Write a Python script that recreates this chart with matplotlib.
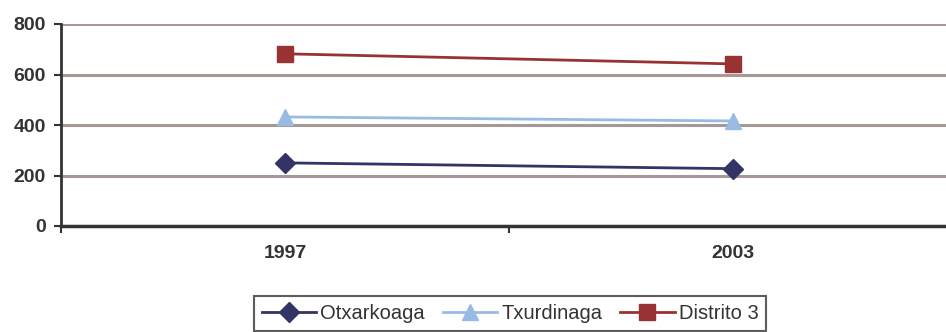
import numpy as np
import matplotlib.pyplot as plt

years = ["1997", "2003"]
otxarkoaga = [250, 227]
txurdinaga = [432, 416]
distrito3 = [682, 642]

names = ["Otxarkoaga", "Txurdinaga", "Distrito 3"]
colors = ["#333366", "#99BBE3", "#993333"]
markers = ["D", "^", "s"]
msizes = [10, 12, 11.5]


def main():
    plt.rcParams['font.family'] = ['Liberation Sans', 'DejaVu Sans']
    fig = plt.figure(figsize=(9.46, 3.32), dpi=100)
    # right part of the plot area is cut off in the original
    ax = fig.add_axes([61 / 946, 1 - 226 / 332, 896 / 946, 202 / 332])

    x = np.arange(len(years)) + 0.5
    series = [otxarkoaga, txurdinaga, distrito3]
    for vals, name, c, m, ms in zip(series, names, colors, markers, msizes):
        ax.plot(x, vals, color=c, marker=m, markersize=ms,
                linewidth=2, label=name, clip_on=False)

    ax.set_xlim(0, 2)
    ax.set_ylim(0, 800)
    ax.set_yticks([0, 200, 400, 600, 800])
    ax.set_xticks([0, 1, 2])
    ax.set_xticklabels([])
    ax.xaxis.set_minor_locator(plt.FixedLocator(x))
    ax.set_xticklabels(years, minor=True)
    ax.tick_params(axis="x", which="minor", length=0, pad=14)
    ax.tick_params(axis="x", which="major", length=5, width=1.5, color="#333333")
    ax.tick_params(axis="y", length=5, width=1.5, color="#333333", pad=6)
    for lab in ax.get_xticklabels(minor=True) + ax.get_yticklabels():
        lab.set_fontweight("bold")
        lab.set_fontsize(14)
        lab.set_color("#333333")

    ax.grid(True, axis="y", color="#A69894", linewidth=2.2)
    ax.set_axisbelow(True)
    for s in ["top", "right"]:
        ax.spines[s].set_visible(False)
    ax.spines["left"].set_linewidth(2)
    ax.spines["left"].set_color("#333333")
    ax.spines["bottom"].set_linewidth(2.5)
    ax.spines["bottom"].set_color("#333333")

    leg = fig.legend(loc="upper center", bbox_to_anchor=(510 / 946, 1 - 296 / 332),
                     ncol=3, frameon=True, fancybox=False, fontsize=14.5,
                     handlelength=2.7, handletextpad=0.2, columnspacing=0.9,
                     borderpad=0.4, borderaxespad=0)
    leg.get_frame().set_edgecolor("#333333")
    leg.get_frame().set_linewidth(1.5)
    for t in leg.get_texts():
        t.set_color("#333333")

    fig.savefig("out.png", dpi=100)


if __name__ == "__main__":
    main()
